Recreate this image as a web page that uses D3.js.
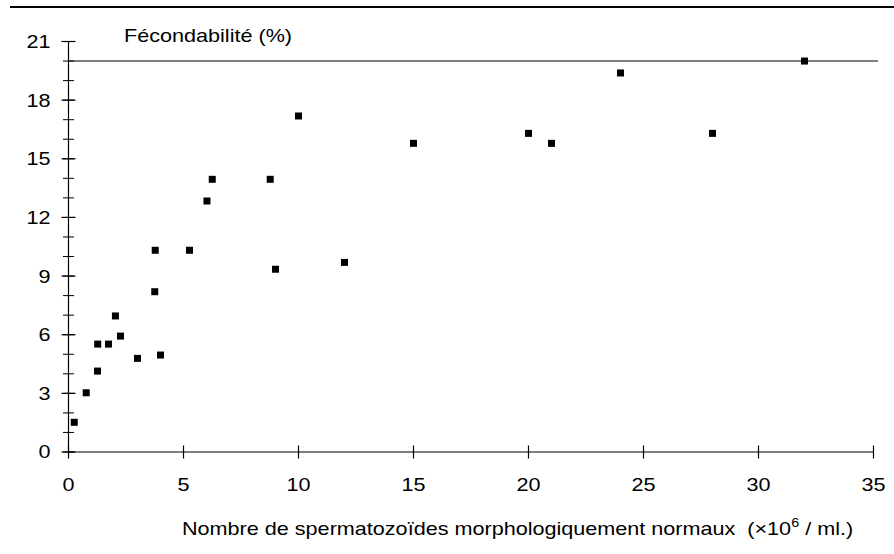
<!DOCTYPE html>
<html>
<head>
<meta charset="utf-8">
<script src="https://cdn.jsdelivr.net/npm/d3@7/dist/d3.min.js"></script>
<style>
html,body{margin:0;padding:0;background:#fff;}
svg{display:block;font-family:"Liberation Sans",Arial,sans-serif;}
</style>
</head>
<body>
<svg id="chart" width="894" height="554"></svg>
<script>
const xValues = [0.25, 0.77, 1.26, 1.27, 1.74, 2.04, 2.26, 3.0, 3.77, 3.75, 4.0, 5.26, 6.02, 6.25, 8.77, 9.0, 10.0, 12.0, 15.0, 20.0, 21.0, 24.0, 28.0, 32.0];
const yValues = [1.52, 3.03, 4.14, 5.52, 5.52, 6.96, 5.93, 4.79, 10.32, 8.2, 4.96, 10.32, 12.84, 13.95, 13.95, 9.35, 17.19, 9.7, 15.79, 16.3, 15.79, 19.39, 16.3, 20.0];
const xTicks = [0, 5, 10, 15, 20, 25, 30, 35];
const yTicks = [0, 3, 6, 9, 12, 15, 18, 21];
const yMinorTicks = d3.range(0, 22, 1);
const refLevel = [20];
const yTitle = "Fécondabilité (%)";
const xTitle = "Nombre de spermatozoïdes morphologiquement normaux\u00a0\u00a0(×10";

const SX = 1.2; // horizontal stretch of the reference's typeface
const svg = d3.select("#chart");
const x = d3.scaleLinear().domain([0, 35]).range([68.5, 873.5]);
const y = d3.scaleLinear().domain([0, 21]).range([452, 41.5]);

// top rule
svg.append("line").attr("x1", 10).attr("x2", 894).attr("y1", 7).attr("y2", 7)
  .attr("stroke", "#000").attr("stroke-width", 2);

// reference line at 20
svg.selectAll(".ref").data(refLevel).enter().append("line")
  .attr("x1", x(0)).attr("x2", 878).attr("y1", d => y(d)).attr("y2", d => y(d))
  .attr("stroke", "#555").attr("stroke-width", 1.5);

// Y axis
svg.append("line").attr("x1", x(0)).attr("x2", x(0)).attr("y1", y(21)).attr("y2", y(0))
  .attr("stroke", "#000").attr("stroke-width", 1.2);
svg.selectAll(".yminor").data(yMinorTicks).enter().append("line")
  .attr("x1", x(0) - 5.5).attr("x2", x(0) + 5.5)
  .attr("y1", d => y(d)).attr("y2", d => y(d))
  .attr("stroke", "#000").attr("stroke-width", 1);
svg.selectAll(".ymajor").data(yTicks).enter().append("line")
  .attr("x1", x(0) - 7).attr("x2", x(0) + 7)
  .attr("y1", d => y(d)).attr("y2", d => y(d))
  .attr("stroke", "#000").attr("stroke-width", 1.2);
svg.selectAll(".ylab").data(yTicks).enter().append("text")
  .attr("transform", d => `translate(50.5,${y(d)}) scale(${SX},1)`)
  .attr("dy", "0.36em")
  .attr("text-anchor", "end").attr("font-size", 18).text(d => d);

// X axis
svg.append("line").attr("x1", x(0)).attr("x2", x(35)).attr("y1", y(0)).attr("y2", y(0))
  .attr("stroke", "#000").attr("stroke-width", 1.2);
svg.selectAll(".xtick").data(xTicks).enter().append("line")
  .attr("x1", d => x(d)).attr("x2", d => x(d))
  .attr("y1", y(0) - 6.5).attr("y2", y(0) + 6.5)
  .attr("stroke", "#000").attr("stroke-width", 1.2);
svg.selectAll(".xlab").data(xTicks).enter().append("text")
  .attr("transform", d => `translate(${x(d)},491) scale(${SX},1)`)
  .attr("text-anchor", "middle").attr("font-size", 18).text(d => d);

// titles
svg.append("text").attr("transform", `translate(124,41.5) scale(${SX},1)`)
  .attr("font-size", 18).text(yTitle);
const xt = svg.append("text").attr("transform", `translate(182,535) scale(${SX},1)`)
  .attr("font-size", 18);
xt.append("tspan").text(xTitle);
xt.append("tspan").attr("font-size", 12).attr("dy", -8).text("6");
xt.append("tspan").attr("dy", 8).text(" / ml.)");

// points
const pts = xValues.map((v, i) => ({x: v, y: yValues[i]}));
svg.selectAll(".pt").data(pts).enter().append("rect")
  .attr("x", d => x(d.x) - 3.5).attr("y", d => y(d.y) - 3.5)
  .attr("width", 7).attr("height", 7).attr("fill", "#000");
</script>
</body>
</html>
